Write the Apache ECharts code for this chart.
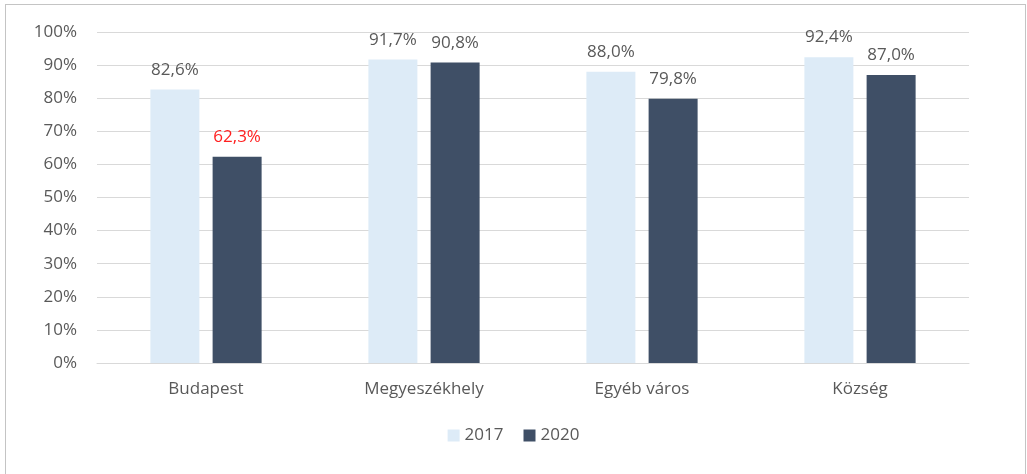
<!DOCTYPE html>
<html>
<head>
<meta charset="utf-8">
<script src="https://cdn.jsdelivr.net/npm/echarts@6/dist/echarts.min.js"></script>
<style>
  html, body { margin: 0; padding: 0; background: #ffffff; }
  #frame { position: absolute; left: 5px; top: 4px; width: 1021px; height: 480px;
           border: 1px solid #c4c4c4; box-sizing: border-box; }
  #chart { position: absolute; left: 0; top: 0; width: 1027px; height: 474px; }
</style>
</head>
<body>
<div id="frame"></div>
<div id="chart"></div>
<script>
const categories = ['Budapest', 'Megyeszékhely', 'Egyéb város', 'Község'];
const values2017 = [82.6, 91.7, 88.0, 92.4];
const values2020 = [62.3, 90.8, 79.8, 87.0];
const yTicks = [0, 10, 20, 30, 40, 50, 60, 70, 80, 90, 100];
// category index whose 2020 label is highlighted
const highlightIndex = 0;

const fontFamily = '"Open Sans", "Noto Sans", sans-serif';
const fmt = v => v.toFixed(1).replace('.', ',') + '%';

const chart = echarts.init(document.getElementById('chart'));
chart.setOption({
  animation: false,
  textStyle: { fontFamily: fontFamily },
  grid: { left: 97, right: 58, top: 32, bottom: 111 },
  legend: {
    bottom: 25,
    left: 'center',
    itemWidth: 12,
    itemHeight: 12,
    itemGap: 20,
    icon: 'rect',
    textStyle: { color: '#595959', fontSize: 17, fontFamily: fontFamily },
    data: ['2017', '2020']
  },
  xAxis: {
    type: 'category',
    data: categories,
    axisLine: { lineStyle: { color: '#d9d9d9', width: 1 } },
    axisTick: { show: false },
    axisLabel: { color: '#595959', fontSize: 17, margin: 18 }
  },
  yAxis: {
    type: 'value',
    min: yTicks[0],
    max: yTicks[yTicks.length - 1],
    interval: 10,
    axisLine: { show: false },
    axisTick: { show: false },
    splitLine: { lineStyle: { color: '#d9d9d9', width: 1 } },
    axisLabel: { color: '#595959', fontSize: 17, margin: 20, formatter: v => v + '%' }
  },
  series: [
    {
      name: '2017',
      type: 'bar',
      data: values2017,
      barWidth: 49,
      barGap: '27%',
      itemStyle: { color: '#ddebf7' },
      label: { show: true, position: 'top', distance: 11, color: '#595959', fontSize: 17,
               formatter: p => fmt(p.value) }
    },
    {
      name: '2020',
      type: 'bar',
      data: values2020.map((v, i) => i === highlightIndex
        ? { value: v, label: { color: '#ff2020' } }
        : v),
      barWidth: 49,
      itemStyle: { color: '#3f4f66' },
      label: { show: true, position: 'top', distance: 11, color: '#595959', fontSize: 17,
               formatter: p => fmt(p.value) }
    }
  ]
});
</script>
</body>
</html>
